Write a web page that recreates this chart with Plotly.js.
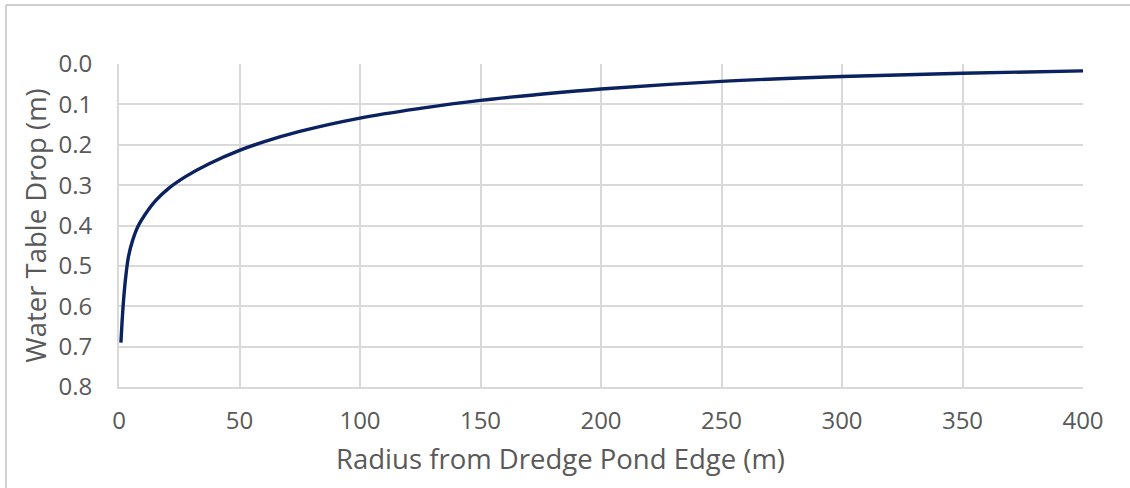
<!DOCTYPE html>
<html>
<head>
<meta charset="utf-8">
<script src="https://cdn.plot.ly/plotly-3.0.1.min.js"></script>
<style>
html,body{margin:0;padding:0;background:#fff;}
#chart{width:1130px;height:488px;}
</style>
</head>
<body>
<div id="chart"></div>
<script>
const radius = [0.8, 1.4, 2.0, 2.8, 3.9, 5.6, 7.8, 10.9, 15.1, 20.6, 27.6, 37.4, 50, 60, 75, 100, 125, 150, 175, 200, 250, 300, 350, 400];
const drop = [0.69, 0.627, 0.577, 0.527, 0.478, 0.438, 0.403, 0.372, 0.339, 0.308, 0.279, 0.247, 0.214, 0.193, 0.167, 0.134, 0.11, 0.09, 0.075, 0.062, 0.043, 0.031, 0.023, 0.017];
const xTitle = "Radius from Dredge Pond Edge (m)";
const yTitle = "Water Table Drop (m)";
const yTicks = [0, 0.1, 0.2, 0.3, 0.4, 0.5, 0.6, 0.7, 0.8];

const textColor = "#595959";
const gridColor = "#d9d9d9";
const fontFam = "Open Sans, sans-serif";

const trace = {
  x: radius, y: drop, type: "scatter", mode: "lines",
  line: {color: "#0b2260", width: 3.4, shape: "spline", smoothing: 1},
  hoverinfo: "skip"
};

const layout = {
  width: 1130, height: 488,
  margin: {l: 119, r: 47, t: 64, b: 101},
  paper_bgcolor: "#fff", plot_bgcolor: "#fff",
  showlegend: false,
  font: {family: fontFam, color: textColor, size: 24},
  xaxis: {
    range: [0, 400], dtick: 50, tick0: 0,
    showgrid: true, gridcolor: gridColor, gridwidth: 2,
    zeroline: false, showline: true, linecolor: gridColor, linewidth: 2,
    ticks: "", ticklabelstandoff: 11,
    tickfont: {family: fontFam, size: 24, color: textColor}
  },
  yaxis: {
    range: [0.8, 0], tickvals: yTicks, tickformat: ".1f",
    showgrid: true, gridcolor: gridColor, gridwidth: 2,
    zeroline: false, showline: true, linecolor: gridColor, linewidth: 2,
    ticks: "", ticklabelstandoff: 20,
    tickfont: {family: fontFam, size: 24, color: textColor},
    title: {text: yTitle, font: {family: fontFam, size: 27.5, color: textColor}, standoff: 4}
  },
  annotations: [
    {text: xTitle, xref: "paper", yref: "paper", x: 0.4585, y: -0.22, xanchor: "center", yanchor: "middle",
     showarrow: false, font: {family: fontFam, size: 27.5, color: textColor}}
  ],
  shapes: [
    {type: "line", xref: "paper", yref: "paper", x0: -0.1172, x1: 1.1, y0: 1.1827, y1: 1.1827, line: {color: "#d0d0d0", width: 2}},
    {type: "line", xref: "paper", yref: "paper", x0: -0.1172, x1: -0.1172, y0: -0.4, y1: 1.1827, line: {color: "#d0d0d0", width: 2}}
  ]
};

Plotly.newPlot("chart", [trace], layout, {staticPlot: true, displayModeBar: false});
</script>
</body>
</html>
